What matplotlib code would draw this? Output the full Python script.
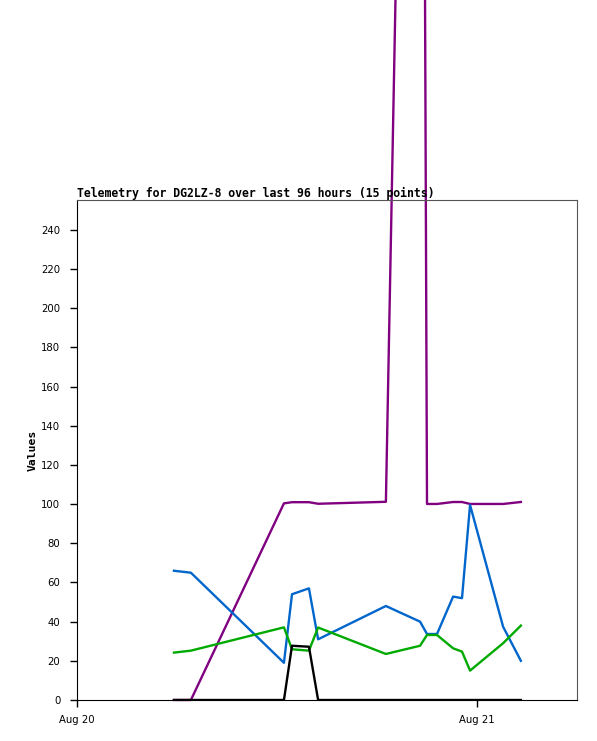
import matplotlib
matplotlib.use("Agg")
import matplotlib.pyplot as plt
import matplotlib.dates as mdates
import numpy as np
import pandas as pd

# timestamps of the 15 telemetry points
times = pd.to_datetime([
    "2023-08-20 05:49", "2023-08-20 06:50", "2023-08-20 12:25", "2023-08-20 12:54",
    "2023-08-20 13:55", "2023-08-20 14:28", "2023-08-20 18:32", "2023-08-20 20:35",
    "2023-08-20 21:00", "2023-08-20 21:36", "2023-08-20 22:34", "2023-08-20 23:06",
    "2023-08-20 23:35", "2023-08-21 01:34", "2023-08-21 02:38",
])

# channel values
purple_vals = [0, 0, 100.4, 101, 101, 100.2, 101.2, 1015, 100.1, 100.1, 101.1, 101.1, 100.1, 100.1, 101.1]
blue_vals = [66, 65, 19, 54, 57, 31, 48, 40, 33.7, 33.7, 52.8, 52, 99.6, 37.4, 20]
green_vals = [24.2, 25.2, 37.1, 25.9, 25.2, 37, 23.5, 27.7, 33.2, 33.2, 26.4, 24.7, 15, 29, 38]
black_vals = [0, 0, 0, 27.7, 27.2, 0, 0, 0, 0, 0, 0, 0, 0, 0, 0]

y_ticks = list(range(0, 241, 20))

fig = plt.figure(figsize=(5.97, 7.41), dpi=100)
ax = fig.add_axes([77 / 597, 41 / 741, 500 / 597, 500 / 741])

lw = 1.7
ax.plot(times, purple_vals, color="#800080", lw=lw, clip_on=False, zorder=2)
ax.plot(times, blue_vals, color="#0066cc", lw=lw, zorder=3)
ax.plot(times, green_vals, color="#00aa00", lw=lw, zorder=3)
ax.plot(times, black_vals, color="black", lw=lw, zorder=4)

ax.set_xlim(pd.Timestamp("2023-08-20 00:00"), pd.Timestamp("2023-08-21 06:00"))
ax.set_ylim(0, 255.3)
ax.set_yticks(y_ticks)
ax.xaxis.set_major_locator(mdates.DayLocator())
ax.xaxis.set_major_formatter(mdates.DateFormatter("%b %d"))

ax.tick_params(axis="both", direction="out", length=5, width=1, labelsize=7.3)
ax.tick_params(axis="y", pad=7)
ax.tick_params(axis="x", pad=6)
for lab in ax.get_xticklabels() + ax.get_yticklabels():
    lab.set_fontfamily("DejaVu Sans")

for side in ["left", "bottom"]:
    ax.spines[side].set_color("black")
for side in ["top", "right"]:
    ax.spines[side].set_color("#555555")

ax.set_title("Telemetry for DG2LZ-8 over last 96 hours (15 points)", loc="left",
             fontfamily="DejaVu Sans Mono", fontweight="bold", fontsize=8.3, pad=2)
ax.set_ylabel("Values", fontfamily="DejaVu Sans Mono", fontweight="bold", fontsize=8.2, labelpad=2.5)

fig.savefig("out.png", dpi=100)
